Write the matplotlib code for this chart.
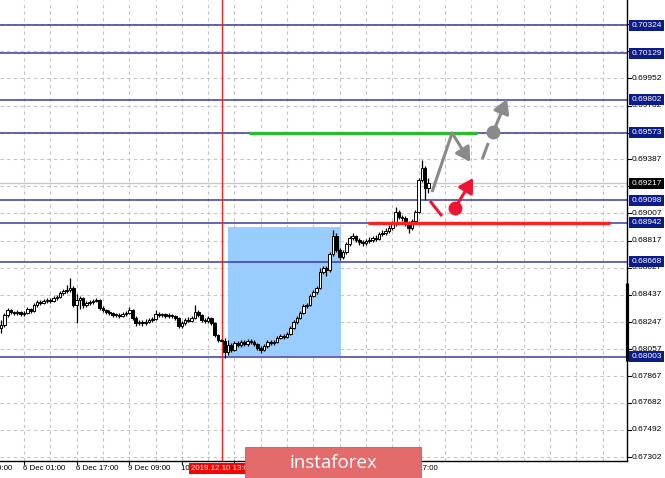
import matplotlib
matplotlib.use("Agg")
import matplotlib.pyplot as plt
import matplotlib.transforms as mtransforms
from matplotlib.patches import Rectangle, FancyArrowPatch

# ---------------- data ----------------
opens = [0.68205,0.68226,0.68296,0.68331,0.68317,0.68310,0.68317,0.68303,0.68310,0.68338,
 0.68324,0.68366,0.68387,0.68380,0.68394,0.68401,0.68394,0.68415,0.68422,0.68450,
 0.68464,0.68471,0.68485,0.68366,0.68401,0.68415,0.68366,0.68380,0.68387,0.68394,
 0.68401,0.68345,0.68331,0.68317,0.68310,0.68296,0.68296,0.68289,0.68303,0.68310,
 0.68331,0.68275,0.68240,0.68247,0.68240,0.68247,0.68261,0.68268,0.68303,0.68296,
 0.68303,0.68289,0.68296,0.68289,0.68275,0.68219,0.68240,0.68261,0.68254,0.68275,
 0.68317,0.68296,0.68261,0.68254,0.68275,0.68240,0.68156,0.68121,0.68114,0.68037,
 0.68086,0.68051,0.68100,0.68086,0.68107,0.68093,0.68114,0.68107,0.68093,0.68065,
 0.68051,0.68079,0.68107,0.68100,0.68107,0.68135,0.68149,0.68142,0.68163,0.68205,
 0.68247,0.68275,0.68310,0.68359,0.68366,0.68429,0.68457,0.68485,0.68597,0.68625,
 0.68611,0.68723,0.68849,0.68751,0.68702,0.68737,0.68793,0.68835,0.68849,0.68821,
 0.68807,0.68800,0.68814,0.68821,0.68835,0.68828,0.68863,0.68870,0.68884,0.68905,
 0.68933,0.69017,0.68982,0.68975,0.68940,0.68905,0.68954,0.69017,0.69241,0.69325,
 0.69185]
closes = [0.68226,0.68296,0.68331,0.68317,0.68310,0.68317,0.68303,0.68310,0.68338,0.68324,
 0.68366,0.68387,0.68380,0.68394,0.68401,0.68394,0.68415,0.68422,0.68450,0.68464,
 0.68471,0.68485,0.68366,0.68401,0.68415,0.68366,0.68380,0.68387,0.68394,0.68401,
 0.68345,0.68331,0.68317,0.68310,0.68296,0.68296,0.68289,0.68303,0.68310,0.68331,
 0.68275,0.68240,0.68247,0.68240,0.68247,0.68261,0.68268,0.68303,0.68296,0.68303,
 0.68289,0.68296,0.68289,0.68275,0.68219,0.68240,0.68261,0.68254,0.68275,0.68317,
 0.68296,0.68261,0.68254,0.68275,0.68240,0.68156,0.68121,0.68114,0.68037,0.68086,
 0.68051,0.68100,0.68086,0.68107,0.68093,0.68114,0.68107,0.68093,0.68065,0.68051,
 0.68079,0.68107,0.68100,0.68107,0.68135,0.68149,0.68142,0.68163,0.68205,0.68247,
 0.68275,0.68310,0.68359,0.68366,0.68429,0.68457,0.68485,0.68597,0.68625,0.68611,
 0.68723,0.68849,0.68751,0.68702,0.68737,0.68793,0.68835,0.68849,0.68821,0.68807,
 0.68800,0.68814,0.68821,0.68835,0.68828,0.68863,0.68870,0.68884,0.68905,0.68933,
 0.69017,0.68982,0.68975,0.68940,0.68905,0.68954,0.69017,0.69241,0.69325,0.69185,
 0.69217]
highs = [0.68261,0.68310,0.68345,0.68338,0.68324,0.68331,0.68324,0.68324,0.68352,0.68345,
 0.68380,0.68401,0.68401,0.68408,0.68415,0.68415,0.68429,0.68436,0.68464,0.68478,
 0.68506,0.68555,0.68499,0.68443,0.68429,0.68422,0.68394,0.68401,0.68408,0.68415,
 0.68408,0.68359,0.68338,0.68331,0.68317,0.68310,0.68310,0.68317,0.68324,0.68352,
 0.68338,0.68289,0.68261,0.68261,0.68268,0.68275,0.68282,0.68331,0.68317,0.68310,
 0.68310,0.68310,0.68303,0.68296,0.68282,0.68254,0.68275,0.68282,0.68289,0.68366,
 0.68331,0.68303,0.68275,0.68289,0.68282,0.68247,0.68163,0.68128,0.68135,0.68121,
 0.68100,0.68114,0.68114,0.68121,0.68121,0.68128,0.68128,0.68121,0.68100,0.68079,
 0.68093,0.68121,0.68121,0.68121,0.68149,0.68163,0.68163,0.68177,0.68219,0.68261,
 0.68289,0.68324,0.68373,0.68380,0.68443,0.68471,0.68499,0.68625,0.68639,0.68639,
 0.68737,0.68891,0.68870,0.68765,0.68751,0.68807,0.68849,0.68870,0.68856,0.68835,
 0.68821,0.68828,0.68842,0.68849,0.68856,0.68877,0.68891,0.68905,0.68926,0.68954,
 0.69052,0.69031,0.68996,0.68989,0.68954,0.68968,0.69031,0.69255,0.69381,0.69339,
 0.69255]
lows = [0.68170,0.68212,0.68282,0.68303,0.68296,0.68296,0.68289,0.68289,0.68303,0.68310,
 0.68317,0.68352,0.68366,0.68373,0.68380,0.68380,0.68387,0.68401,0.68415,0.68436,
 0.68450,0.68457,0.68352,0.68240,0.68338,0.68345,0.68352,0.68366,0.68373,0.68387,
 0.68331,0.68317,0.68303,0.68296,0.68282,0.68282,0.68275,0.68282,0.68289,0.68303,
 0.68261,0.68219,0.68226,0.68219,0.68226,0.68240,0.68247,0.68261,0.68282,0.68282,
 0.68275,0.68275,0.68275,0.68261,0.68205,0.68205,0.68226,0.68247,0.68247,0.68268,
 0.68282,0.68247,0.68240,0.68240,0.68226,0.68142,0.68107,0.68114,0.67995,0.68016,
 0.68037,0.68044,0.68072,0.68072,0.68079,0.68079,0.68093,0.68079,0.68051,0.68030,
 0.68044,0.68065,0.68086,0.68086,0.68100,0.68128,0.68128,0.68135,0.68156,0.68198,
 0.68233,0.68268,0.68303,0.68345,0.68359,0.68422,0.68443,0.68478,0.68583,0.68569,
 0.68597,0.68709,0.68737,0.68681,0.68688,0.68723,0.68779,0.68821,0.68807,0.68786,
 0.68779,0.68786,0.68800,0.68807,0.68814,0.68821,0.68849,0.68856,0.68870,0.68891,
 0.68919,0.68968,0.68954,0.68919,0.68870,0.68891,0.68940,0.69010,0.69227,0.69101,
 0.69150]

level_prices = [0.70324, 0.70129, 0.69802, 0.69573, 0.69098, 0.68942, 0.68668, 0.68003]
level_labels = ["0.70324", "0.70129", "0.69802", "0.69573", "0.69098", "0.68942", "0.68668", "0.68003"]
current_price = 0.69217
current_label = "0.69217"
grid_prices = [0.70332, 0.70142, 0.69952, 0.69762, 0.69572, 0.69387, 0.69197, 0.69007, 0.68817,
               0.68627, 0.68437, 0.68247, 0.68057, 0.67867, 0.67682, 0.67492, 0.67302]
# labels of the grid levels that show (the others are covered by level tags)
label_prices = [0.69952, 0.69762, 0.69387, 0.69197, 0.69007, 0.68817, 0.68627, 0.68437, 0.68247,
                0.68057, 0.67867, 0.67682, 0.67492, 0.67302]
label_texts = ["0.69952", "0.69762", "0.69387", "0.69197", "0.69007", "0.68817", "0.68627", "0.68437",
               "0.68247", "0.68057", "0.67867", "0.67682", "0.67492", "0.67302"]
time_tick_bars = [-8, 8, 24, 40, 56, 72, 88, 104, 120]
time_label_bars = [-8, 8, 24, 40, 56, 120]
time_tick_labels = ["5 Dec 09:00", "6 Dec 01:00", "6 Dec 17:00", "9 Dec 09:00", "10 Dec 01:00",
                    "12 Dec 17:00"]
vgrid_bars = list(range(8, 192, 8))
vline_bar = 68.1
vline_label = "2019.12.10 13:00"
zone_bars = [70.05, 104.3]
zone_prices = [0.68006, 0.68912]
green_bars = [76.4, 145.8]
green_price = 0.69573
red_bars = [112.6, 186.3]
red_price = 0.68942
axis_bar_prices = [0.68520, 0.67974]
gray_up_path = [(132.1, 0.69157), (138.2, 0.69570)]
gray_down_arrow = [(138.2, 0.69570), (143.7, 0.69367)]
gray_dash = [(147.4, 0.69388), (149.2, 0.69500)]
gray_circle = (150.7, 0.69577)
gray_up_arrow = [(150.7, 0.69577), (154.9, 0.69808)]
red_seg = [(131.5, 0.69094), (135.1, 0.68989)]
red_circle = (139.1, 0.69045)
red_arrow = [(139.1, 0.69045), (144.6, 0.69255)]

# ---------------- figure ----------------
W, H = 665, 478
fig = plt.figure(figsize=(W / 100, H / 100), dpi=100)
fig.patch.set_facecolor("white")
ax_right_px, ax_bottom_px = 627, 461
ax = fig.add_axes([0, (H - ax_bottom_px) / H, ax_right_px / W, ax_bottom_px / H])
ax.set_xlim(0.7, 191.4)
ax.set_ylim(0.67274, 0.70501)
ax.set_xticks([])
ax.set_yticks([])
for s in ["top", "left"]:
    ax.spines[s].set_visible(False)
for s in ["right", "bottom"]:
    ax.spines[s].set_color("black")
    ax.spines[s].set_linewidth(1.0)

font = "Liberation Sans"
fs = 6.0
ppx = (0.70501 - 0.67274) / ax_bottom_px  # price per pixel
bpx = (191.4 - 0.7) / ax_right_px          # bars per pixel

# grid
for g in grid_prices:
    ax.axhline(g, color="#c4c4c4", lw=0.8, ls=(0, (3, 3)), zorder=0)
for vb in vgrid_bars:
    ax.axvline(vb, color="#c4c4c4", lw=0.8, ls=(0, (3, 3)), zorder=0)

# zone rectangle
ax.add_patch(Rectangle((zone_bars[0], zone_prices[0]), zone_bars[1] - zone_bars[0],
                       zone_prices[1] - zone_prices[0], facecolor="#99ccff", edgecolor="none", zorder=1))

# levels
for p in level_prices:
    ax.axhline(p, color="#3a3aa5", lw=1.1, zorder=2)
ax.axhline(current_price, color="#c8c8c8", lw=1.0, zorder=1.5)

# vertical red line
ax.axvline(vline_bar, color="#ff2020", lw=1.0, zorder=2)

# candles
for i, (o, h, l, c) in enumerate(zip(opens, highs, lows, closes)):
    b = i + 1
    ax.plot([b, b], [l, h], color="black", lw=0.9, zorder=3, solid_capstyle="butt")
    bottom = min(o, c)
    height = max(abs(c - o), ppx * 0.8)
    face = "white" if c >= o else "black"
    ax.add_patch(Rectangle((b - 0.4, bottom), 0.8, height, facecolor=face,
                           edgecolor="black", lw=0.7, zorder=4))

# green and red horizontal segments
ax.plot(green_bars, [green_price, green_price], color="#2dbb2d", lw=2.4, zorder=5, solid_capstyle="butt")
ax.plot(red_bars, [red_price, red_price], color="#ff1f1f", lw=2.4, zorder=5, solid_capstyle="butt")

# gray projections
gray = "#8a8a8a"
ax.plot([p[0] for p in gray_up_path], [p[1] for p in gray_up_path], color=gray, lw=2.2, zorder=6,
        solid_capstyle="butt")
ax.plot([p[0] for p in gray_dash], [p[1] for p in gray_dash], color=gray, lw=2.2, zorder=6,
        solid_capstyle="butt")
for seg in (gray_down_arrow, gray_up_arrow):
    ax.add_patch(FancyArrowPatch(seg[0], seg[1], arrowstyle="-|>,head_length=0.6,head_width=0.35",
                                 mutation_scale=14, color=gray, lw=2.2, zorder=6, shrinkA=0, shrinkB=0))
ax.plot([gray_circle[0]], [gray_circle[1]], "o", color=gray, ms=9, zorder=7)

redc = "#ef1530"
ax.plot([p[0] for p in red_seg], [p[1] for p in red_seg], color=redc, lw=2.2, zorder=6,
        solid_capstyle="butt")
ax.add_patch(FancyArrowPatch(red_arrow[0], red_arrow[1], arrowstyle="-|>,head_length=0.6,head_width=0.35",
                             mutation_scale=14, color=redc, lw=2.2, zorder=6, shrinkA=0, shrinkB=0))
ax.plot([red_circle[0]], [red_circle[1]], "o", color=redc, ms=9, zorder=7)

# right axis: ticks and labels
rt = mtransforms.blended_transform_factory(ax.transAxes, ax.transData)
x_axis = 1.0
for g in grid_prices:
    ax.plot([x_axis, x_axis + 4 / ax_right_px], [g, g], color="black", lw=0.8, transform=rt,
            clip_on=False, zorder=8)
for g, lab in zip(label_prices, label_texts):
    ax.text(632 / ax_right_px, g, lab, transform=rt, ha="left", va="center", fontsize=fs,
            family=font, color="black", clip_on=False, zorder=8)

ax.plot([x_axis, x_axis], axis_bar_prices, color="black", lw=2.3, transform=rt, clip_on=False,
        zorder=9, solid_capstyle="butt")

hh = 5.5 * ppx
for p, lab in zip(level_prices, level_labels):
    ax.add_patch(Rectangle((629 / ax_right_px, p - hh), 35 / ax_right_px, 2 * hh, transform=rt,
                           facecolor="#0c1b8a", edgecolor="none", clip_on=False, zorder=10))
    ax.text(632 / ax_right_px, p, lab, transform=rt, ha="left", va="center", fontsize=fs,
            family=font, color="white", clip_on=False, zorder=11)
ax.add_patch(Rectangle((629 / ax_right_px, current_price - hh), 35 / ax_right_px, 2 * hh, transform=rt,
                       facecolor="black", edgecolor="none", clip_on=False, zorder=10))
ax.text(632 / ax_right_px, current_price, current_label, transform=rt, ha="left", va="center",
        fontsize=fs, family=font, color="white", clip_on=False, zorder=11)

# bottom time axis
bt = mtransforms.blended_transform_factory(ax.transData, ax.transAxes)
lab_y = -7.5 / ax_bottom_px
for tb in time_tick_bars:
    ax.plot([tb, tb], [0, -3 / ax_bottom_px], color="black", lw=0.8, transform=bt, clip_on=False, zorder=8)
for tb, lab in zip(time_label_bars, time_tick_labels):
    ax.text(tb - 1 * bpx, lab_y, lab, transform=bt, ha="left", va="center", fontsize=5.7,
            family=font, color="black", clip_on=False, zorder=8)
ax.text(vline_bar, lab_y, vline_label, transform=bt, ha="center", va="center", fontsize=5.7,
        family=font, color="white", clip_on=False, zorder=12,
        bbox=dict(boxstyle="square,pad=0.25", facecolor="#ff0000", edgecolor="none"))

# watermark
fig.add_artist(Rectangle((245 / W, 0), 176 / W, 31 / H, transform=fig.transFigure,
                         facecolor="#e36b6b", edgecolor="#d05555", lw=0.6, zorder=20))
fig.text(333 / W, 14.5 / H, "instaforex", ha="center", va="center", fontsize=13.5,
         family="Open Sans", color="white", zorder=21)

fig.savefig("out.png", dpi=100, facecolor="white")
